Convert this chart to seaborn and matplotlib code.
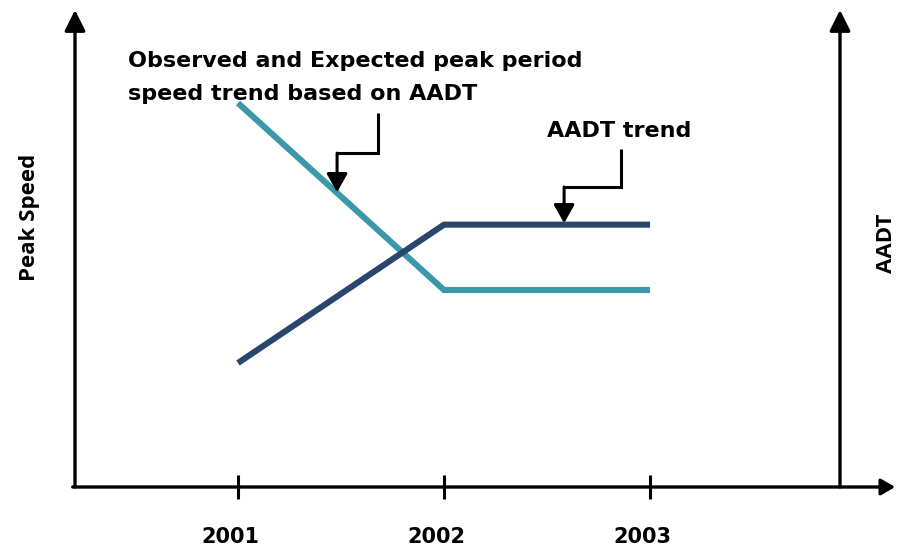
import matplotlib
matplotlib.use("Agg")
import matplotlib.pyplot as plt
import matplotlib.transforms as mtransforms
import seaborn as sns

# Conceptual trend values (arbitrary units on each axis)
years = [2001, 2002, 2003]
peak_speed = [80.5, 41.3, 41.3]
aadt = [26.0, 55.0, 55.0]
tick_labels = ["2001", "2002", "2003"]

speed_color = "#3a98aa"
aadt_color = "#29466b"

sns.set_theme(style="white")
plt.rcParams["font.family"] = ["Open Sans", "DejaVu Sans"]

W, H = 898, 548
fig = plt.figure(figsize=(W / 100, H / 100), dpi=100)
fig.patch.set_facecolor("white")

# axes box in pixel terms: left spine x=75, right spine x=840, base y=487, top y=10
left_px, right_px, base_px, top_px = 75, 840, 487, 10
ax = fig.add_axes([left_px / W, (H - base_px) / H,
                   (right_px - left_px) / W, (base_px - top_px) / H])
ax2 = ax.twinx()

xlim = (2000.209, 2003.922)
ylim = (0, 100)
for a in (ax, ax2):
    a.set_xlim(*xlim)
    a.set_ylim(*ylim)
    for s in a.spines.values():
        s.set_visible(False)
    a.set_yticks([])
    a.patch.set_alpha(0)

sns.lineplot(x=years, y=peak_speed, ax=ax, color=speed_color, linewidth=4.4,
             solid_capstyle="butt", solid_joinstyle="miter")
sns.lineplot(x=years, y=aadt, ax=ax2, color=aadt_color, linewidth=4.4,
             solid_capstyle="butt", solid_joinstyle="miter")

# axis arrows
axis_kw = dict(arrowstyle="-|>,head_length=0.9,head_width=0.45", color="black",
               lw=2.4, shrinkA=0, shrinkB=0, mutation_scale=14)
ax.annotate("", xy=(0, 1.0), xytext=(0, 0), xycoords="axes fraction",
            arrowprops=axis_kw, annotation_clip=False)
ax.annotate("", xy=(1, 1.0), xytext=(1, 0), xycoords="axes fraction",
            arrowprops=axis_kw, annotation_clip=False)
ax.annotate("", xy=(1.072, 0), xytext=(-0.003, 0), xycoords="axes fraction",
            arrowprops=dict(arrowstyle="-|>,head_length=0.6,head_width=0.35",
                            color="black", lw=2.4, shrinkA=0, shrinkB=0,
                            mutation_scale=14),
            annotation_clip=False)

# year ticks crossing the base line
ax.set_xticks(years)
ax.set_xticklabels(tick_labels, fontsize=15, fontweight="bold", color="black",
                   family=["DejaVu Sans"])
ax.tick_params(axis="x", direction="inout", length=17, width=2.2,
               color="black", pad=20, bottom=True)
ax2.tick_params(axis="x", bottom=False, labelbottom=False)
ax.set_xlabel("")
# year labels sit a little left of their ticks
shift = mtransforms.ScaledTranslation(-8 / 100, 0, fig.dpi_scale_trans)
for lbl in ax.get_xticklabels():
    lbl.set_transform(lbl.get_transform() + shift)

# axis titles
label_kw = dict(fontsize=16, fontweight="bold", color="black", rotation=90,
                ha="center", va="center", transform=ax.transAxes)
ax.text(-0.059, 0.565, "Peak Speed", **label_kw)
ax.text(1.061, 0.510, "AADT", **label_kw)

# callouts
call_kw = dict(color="black", lw=2.2, solid_capstyle="butt",
               solid_joinstyle="miter", clip_on=False)
head_kw = dict(arrowstyle="-|>,head_length=0.8,head_width=0.45",
               color="black", lw=2.2, shrinkA=0, shrinkB=0, mutation_scale=14)

ax.plot([2001.680, 2001.680, 2001.481], [78.4, 70.0, 70.0], **call_kw)
ax.annotate("", xy=(2001.481, 61.8), xytext=(2001.481, 70.0),
            arrowprops=head_kw)
title_kw = dict(fontsize=16, fontweight="bold", color="black", va="baseline",
                family=["DejaVu Sans"])
ax.text(2000.466, 88.05, "Observed and Expected peak period", **title_kw)
ax.text(2000.466, 81.1, "speed trend based on AADT", **title_kw)

ax.plot([2002.859, 2002.859, 2002.583], [70.9, 62.9, 62.9], **call_kw)
ax.annotate("", xy=(2002.583, 55.3), xytext=(2002.583, 62.9),
            arrowprops=head_kw)
ax.text(2002.500, 73.4, "AADT trend", **title_kw)

fig.savefig("out.png", dpi=100)
